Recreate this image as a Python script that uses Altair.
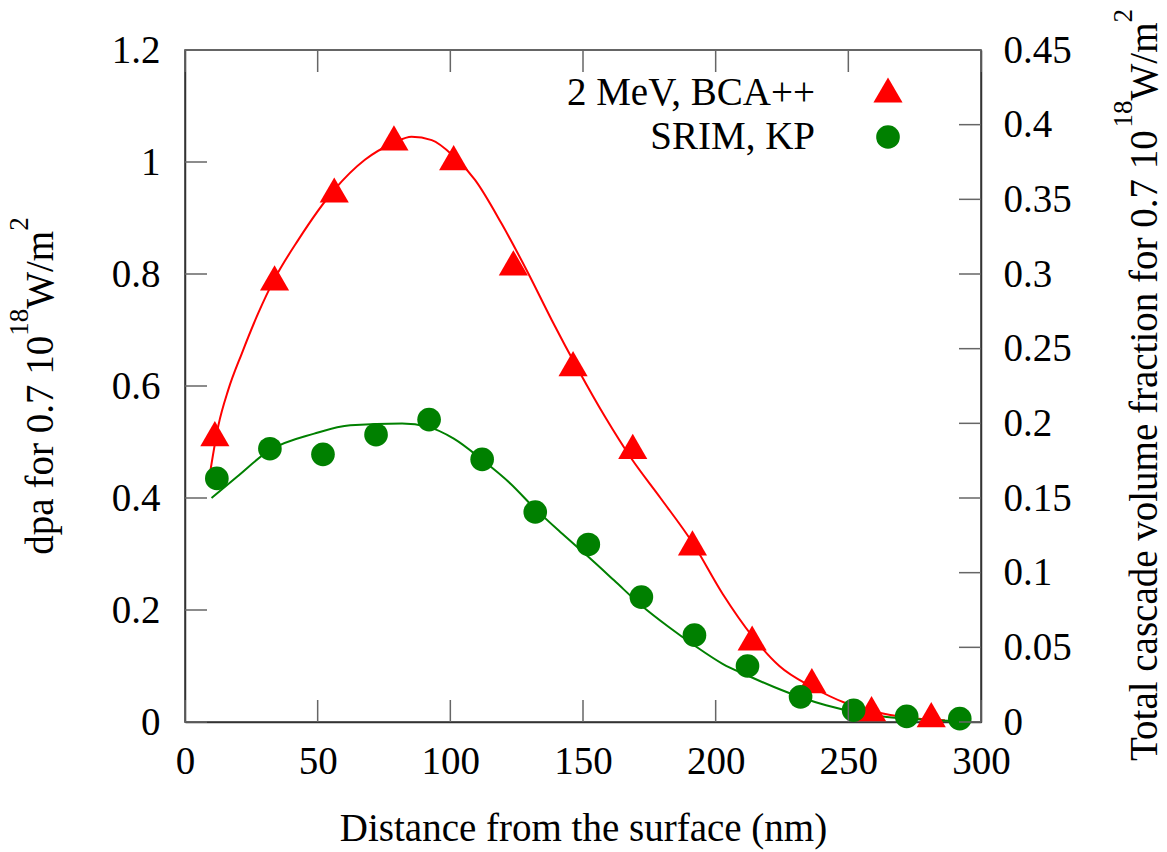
import altair as alt
import pandas as pd

# ---- data ----
bca_x = [11.25, 33.75, 56.25, 78.75, 101.25, 123.75, 146.25, 168.75, 191.25, 213.75, 236.25, 258.75, 281.25]
bca_y = [0.515, 0.793, 0.950, 1.043, 1.008, 0.820, 0.640, 0.492, 0.320, 0.150, 0.074, 0.024, 0.013]

srim_x = [12, 32, 52, 72, 92, 112, 132, 152, 172, 192, 212, 232, 252, 272, 292]
srim_y = [0.435, 0.488, 0.478, 0.513, 0.540, 0.469, 0.375, 0.317, 0.223, 0.155, 0.100, 0.045, 0.021, 0.010, 0.006]

# fitted curves
bca_fit_x = [9, 12.6, 16.3, 21.4, 27.6, 33.5, 42.7, 56.2, 67.8, 78.6, 85.4, 93, 101.1, 109.3, 119.3,
             129.4, 138.2, 148.2, 158.3, 168.3, 179.2, 191.3, 202.6, 214, 224, 236.3, 249.4, 263, 276.6, 286.4]
bca_fit_y = [0.432, 0.530, 0.593, 0.658, 0.730, 0.789, 0.861, 0.950, 1.004, 1.034, 1.045, 1.039, 1.011, 0.968, 0.890,
             0.801, 0.718, 0.629, 0.545, 0.470, 0.400, 0.320, 0.229, 0.152, 0.100, 0.0625, 0.033, 0.015, 0.006, 0.003]

srim_fit_x = [10, 19.5, 31.8, 48.7, 62.3, 81.8, 91.6, 101.3, 111.8, 122.7, 131.9, 142.2, 152, 161.7, 172,
              182.2, 191.9, 202.6, 212, 222, 231.8, 241.6, 252.3, 263, 272.7, 282.5, 290.3]
srim_fit_y = [0.400, 0.4375, 0.485, 0.515, 0.530, 0.533, 0.527, 0.506, 0.469, 0.4256, 0.381, 0.336, 0.295, 0.253, 0.208,
              0.170, 0.137, 0.104, 0.083, 0.0625, 0.0446, 0.0298, 0.018, 0.010, 0.006, 0.003, 0.002]

x_ticks = [0, 50, 100, 150, 200, 250, 300]
left_ticks = [0, 0.2, 0.4, 0.6, 0.8, 1, 1.2]
right_ticks = [0, 0.05, 0.1, 0.15, 0.2, 0.25, 0.3, 0.35, 0.4, 0.45]
legend_labels = ["2 MeV, BCA++", "SRIM, KP"]

x_title = "Distance from the surface (nm)"
# (text, is_superscript)
left_title = [("dpa for 0.7 10", False), ("18", True), ("W/m", False), ("2", True)]
right_title = [("Total cascade volume fraction for 0.7 10", False), ("18", True), ("W/m", False), ("2", True)]

# ---- layout / style ----
W, H = 796, 672
FONT = "Liberation Serif"
FS = 39
SUP_FS = 27
RAISE = 25
RED = "#ff0000"
GREEN = "#008000"
TICKLEN = 22
TICKCOL = "#666666"

# Times-compatible advance widths (per em) used to place rich-title pieces
TW = {" ": .25, "a": .444, "c": .444, "d": .5, "e": .444, "f": .333, "i": .278, "l": .278, "m": .778,
      "n": .5, "o": .5, "p": .5, "r": .333, "s": .389, "t": .278, "u": .5, "v": .5, "T": .611,
      "W": .944, "/": .278, ".": .25}


def text_width(s, fs):
    return sum(TW.get(c, .5) for c in s) * fs


def rotated_title(pieces, x_base, y_center):
    widths = [text_width(t, SUP_FS if sup else FS) for t, sup in pieces]
    y = y_center + sum(widths) / 2
    layers = []
    for (t, sup), w in zip(pieces, widths):
        layers.append(
            alt.Chart(pd.DataFrame({"t": [t]})).mark_text(
                font=FONT, fontSize=SUP_FS if sup else FS, angle=270, align="left",
                baseline="alphabetic", color="black").encode(
                text="t:N", x=alt.value(x_base - RAISE if sup else x_base), y=alt.value(y)))
        y -= w
    return layers


xscale = alt.Scale(domain=[0, 300], nice=False, zero=False)
lscale = alt.Scale(domain=[0, 1.2], nice=False, zero=False)
rscale = alt.Scale(domain=[0, 0.45], nice=False, zero=False)

xaxis = alt.Axis(values=x_ticks, format="d", ticks=False, grid=False, labelPadding=20, labelFlush=False,
                 title=x_title, titleX=W / 2, titleY=118, titleBaseline="alphabetic", titleAlign="center",
                 domainColor="#333333", domainWidth=1.5)
laxis = alt.Axis(values=left_ticks, format=".2~f", ticks=False, grid=False, labelPadding=25, labelFlush=False,
                 title=None, domainColor="#333333", domainWidth=1.5)
raxis = alt.Axis(orient="right", values=right_ticks, format=".2~f", ticks=False, grid=False, labelPadding=22,
                 labelFlush=False, title=None, domainColor="#333333", domainWidth=1.5)

X = alt.X("x:Q", scale=xscale, axis=xaxis)
YL = alt.Y("y:Q", scale=lscale, axis=laxis)

bca_fit = pd.DataFrame({"x": bca_fit_x, "y": bca_fit_y})
srim_fit = pd.DataFrame({"x": srim_fit_x, "y": srim_fit_y})
bca = pd.DataFrame({"x": bca_x, "y": bca_y})
srim = pd.DataFrame({"x": srim_x, "y": srim_y})

red_line = alt.Chart(bca_fit).mark_line(color=RED, strokeWidth=2, interpolate="monotone").encode(x=X, y=YL)
green_line = alt.Chart(srim_fit).mark_line(color=GREEN, strokeWidth=2, interpolate="monotone").encode(x=X, y=YL)
red_pts = alt.Chart(bca).mark_point(shape="triangle-up", filled=True, color=RED, size=850, opacity=1).encode(x=X, y=YL)
green_pts = alt.Chart(srim).mark_point(shape="circle", filled=True, color=GREEN, size=560, opacity=1).encode(x=X, y=YL)

xt = pd.DataFrame({"x": x_ticks})
lt = pd.DataFrame({"y": left_ticks})
rt = pd.DataFrame({"y": right_ticks})

xticks_bottom = alt.Chart(xt).mark_rule(color=TICKCOL, strokeWidth=1.5).encode(
    x=X, y=alt.value(H), y2=alt.value(H - TICKLEN))
xticks_top = alt.Chart(xt).mark_rule(color=TICKCOL, strokeWidth=1.5).encode(
    x=X, y=alt.value(0), y2=alt.value(TICKLEN))
lticks = alt.Chart(lt).mark_rule(color=TICKCOL, strokeWidth=1.5).encode(
    y=YL, x=alt.value(0), x2=alt.value(TICKLEN))

leg1_text = alt.Chart(pd.DataFrame({"t": [legend_labels[0]]})).mark_text(
    font=FONT, fontSize=FS, align="right", baseline="alphabetic", color="black").encode(
    text="t:N", x=alt.value(630), y=alt.value(55))
leg2_text = alt.Chart(pd.DataFrame({"t": [legend_labels[1]]})).mark_text(
    font=FONT, fontSize=FS, align="right", baseline="alphabetic", color="black").encode(
    text="t:N", x=alt.value(630), y=alt.value(99))
leg1_sym = alt.Chart(pd.DataFrame({"t": [legend_labels[0]]})).mark_point(
    shape="triangle-up", filled=True, color=RED, size=850, opacity=1).encode(
    x=alt.value(703), y=alt.value(40))
leg2_sym = alt.Chart(pd.DataFrame({"t": [legend_labels[1]]})).mark_point(
    shape="circle", filled=True, color=GREEN, size=560, opacity=1).encode(
    x=alt.value(703), y=alt.value(87))

titles = rotated_title(left_title, -132, H / 2) + rotated_title(right_title, 972, H / 2 - 1)

left = alt.layer(red_line, green_line, red_pts, green_pts, xticks_bottom, xticks_top, lticks,
                 leg1_text, leg2_text, leg1_sym, leg2_sym, *titles)

right = alt.Chart(rt).mark_rule(color=TICKCOL, strokeWidth=1.5).encode(
    y=alt.Y("y:Q", scale=rscale, axis=raxis), x=alt.value(W), x2=alt.value(W - TICKLEN))

chart = alt.layer(left, right).resolve_scale(y="independent").properties(
    width=W, height=H,
    autosize=alt.AutoSizeParams(type="none"),
    padding={"left": 185, "top": 50, "right": 186, "bottom": 130},
    background="white",
).configure_view(stroke="#333333", strokeWidth=1.5).configure_axis(
    labelFont=FONT, labelFontSize=FS, labelColor="black",
    titleFont=FONT, titleFontSize=FS, titleFontWeight="normal", titleColor="black",
)

chart.save("out.html", embed_options={"renderer": "svg", "actions": False})
